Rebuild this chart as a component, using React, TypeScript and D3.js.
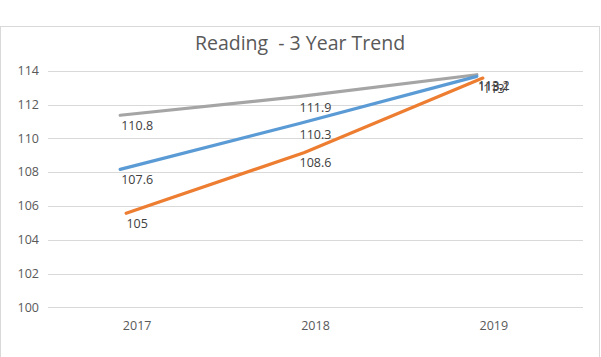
import React from "react";
import * as d3 from "d3";

const categories = ["2017", "2018", "2019"];
const yTicks = [100, 102, 104, 106, 108, 110, 112, 114];
const grayValues = [110.8, 111.9, 113.2];
const blueValues = [107.6, 110.3, 113.1];
const orangeValues = [105, 108.6, 113.0];
const title = "Reading  - 3 Year Trend";

const W = 601;
const H = 357;

export default function App() {
  const x = d3.scaleBand<string>().domain(categories).range([48, 583]);
  const y = d3.scaleLinear().domain([100, 114]).range([307.3, 70.7]);
  const cx = (c: string) => (x(c) as number) + x.bandwidth() / 2;

  const series = [
    { name: "gray", values: grayValues, color: "#a5a5a5", dx: -17 },
    { name: "blue", values: blueValues, color: "#5b9bd5", dx: -17 },
    { name: "orange", values: orangeValues, color: "#ed7d31", dx: -11 },
  ];
  const fmt = (v: number) => d3.format("~f")(v);
  const font = "'Open Sans', 'DejaVu Sans', sans-serif";

  return (
    <svg width={W} height={H} style={{ position: "absolute", left: 0, top: 0 }} fontFamily={font}>
      <rect x={0} y={0} width={W} height={H} fill="#fff" />
      <rect x={0.5} y={26.5} width={599} height={400} fill="#fff" stroke="#d9d9d9" strokeWidth={1} />
      <text x={300} y={50} textAnchor="middle" fontSize={19.5} fill="#595959" style={{ whiteSpace: "pre" }}>{title}</text>
      {yTicks.map((t) => (
        <g key={t}>
          <line x1={48} x2={583} y1={Math.round(y(t)) + 0.5} y2={Math.round(y(t)) + 0.5} stroke="#d9d9d9" strokeWidth={1} />
          <text x={39} y={y(t)} dy="0.35em" textAnchor="end" fontSize={12.5} fill="#595959">{t}</text>
        </g>
      ))}
      {categories.map((c) => (
        <text key={c} x={cx(c)} y={326} dy="0.35em" textAnchor="middle" fontSize={12.5} fill="#595959">{c}</text>
      ))}
      {series.map((s) => {
        const line = d3
          .line<number>()
          .x((_, i) => cx(categories[i]) + s.dx)
          .y((v) => y(v) - 9.5);
        return (
          <path key={s.name} d={line(s.values) as string} fill="none" stroke={s.color} strokeWidth={3.2} strokeLinecap="round" />
        );
      })}
      {series.map((s) =>
        s.values.map((v, i) => (
          <text key={s.name + i} x={cx(categories[i])} y={y(v) + 1} dy="0.35em" textAnchor="middle" fontSize={12.5} fill="#404040">
            {fmt(v)}
          </text>
        ))
      )}
    </svg>
  );
}
